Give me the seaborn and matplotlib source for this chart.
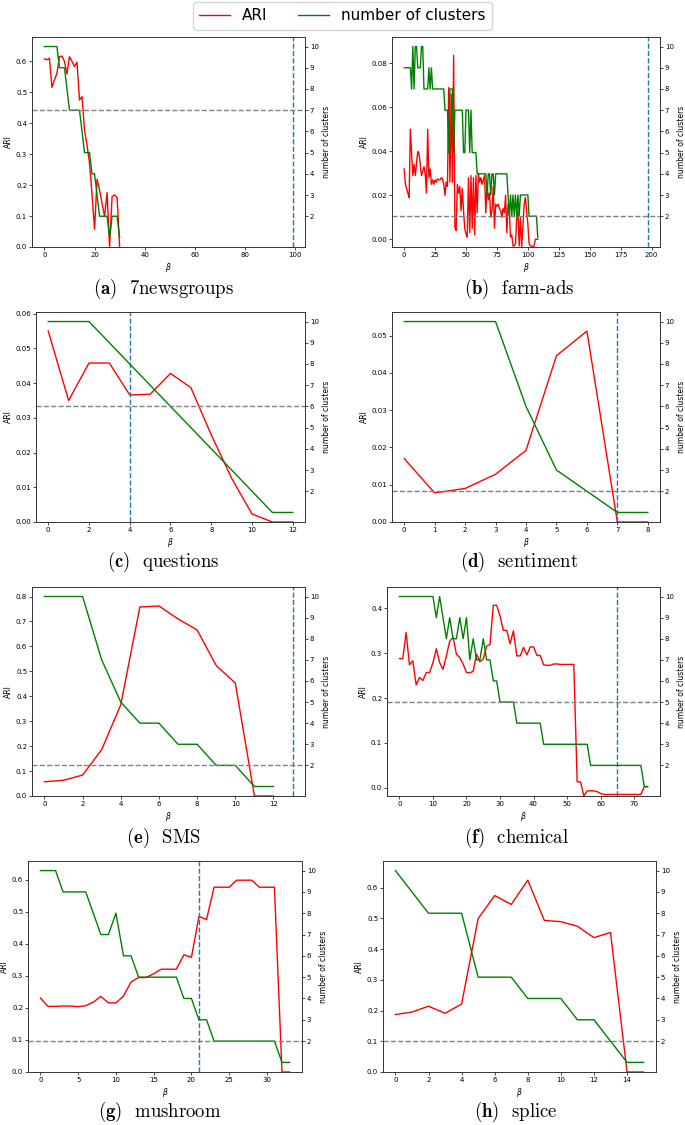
import matplotlib
matplotlib.use("Agg")
import matplotlib.pyplot as plt
import seaborn as sns

# --- DATA ---
# (a) 7newsgroups
news_beta = list(range(31))
news_ari = [0.608, 0.605, 0.61, 0.516, 0.54, 0.561, 0.615, 0.617, 0.60, 0.559,
            0.615, 0.60, 0.583, 0.597, 0.475, 0.486, 0.378, 0.33, 0.27, 0.17,
            0.057, 0.219, 0.184, 0.141, 0.098, 0.176, 0.0, 0.163, 0.168, 0.16, 0.0]
news_k = [10, 10, 10, 10, 10, 10, 9, 9, 9, 8, 7, 7, 7, 7, 7, 6, 5, 5, 5, 4,
          4, 3, 2, 2, 2, 2, 1, 2, 2, 2, 1]

# (b) farm-ads
farm_beta = list(range(109))
farm_ari = [0.032, 0.025, 0.023, 0.021, 0.019, 0.050, 0.039, 0.029, 0.034, 0.029,
            0.035, 0.040, 0.039, 0.034, 0.029, 0.031, 0.033, 0.030, 0.021, 0.050,
            0.028, 0.032, 0.025, 0.027, 0.025, 0.027, 0.026, 0.0275, 0.027, 0.027,
            0.028, 0.0275, 0.025, 0.020, 0.026, 0.024, 0.069, 0.026, 0.066, 0.026,
            0.0836, 0.0055, 0.004, 0.025, 0.021, 0.024, 0.013, 0.023, 0.013, 0.0047,
            0.0024, 0.001, 0.028, 0.003, 0.029, 0.005, 0.028, 0.002, 0.029, 0.012,
            0.030, 0.026, 0.028, 0.025, 0.027, 0.029, 0.012, 0.025, 0.018, 0.021,
            0.010, 0.013, 0.024, 0.005, 0.016, 0.015, 0.016, 0.014, 0.013, 0.010,
            0.014, 0.012, 0.020, 0.003, 0.016, 0.013, 0.001, 0.002, -0.003, -0.003,
            -0.002, 0.010, 0.013, -0.003, 0.010, -0.0035, 0.006, 0.016, 0.019, 0.013,
            0.007, -0.002, -0.003, -0.003, -0.0035, -0.003, 0.0, 0.0, 0.0]
farm_k = [9, 9, 9, 9, 9, 9, 8, 10, 8, 10, 10, 9, 9, 9, 10, 10, 8, 8, 8, 8,
          9, 8, 9, 8, 8, 8, 8, 8, 8, 8, 8, 8, 8, 7, 7, 7, 5, 8, 8, 8,
          5, 7, 7, 7, 7, 7, 7, 7, 5, 5, 7, 7, 7, 5, 7, 5, 5, 5, 5, 4,
          4, 4, 4, 4, 4, 4, 4, 3, 4, 4, 3, 4, 4, 3, 4, 4, 4, 4, 4, 4,
          4, 4, 4, 4, 3, 2, 3, 2, 3, 2, 3, 2, 3, 2, 3, 3, 3, 3, 3, 3,
          3, 2, 2, 2, 2, 2, 2, 2, 1]

# (c) questions
quest_beta = list(range(13))
quest_ari = [0.055, 0.035, 0.0458, 0.0458, 0.0366, 0.0368, 0.0428, 0.0387,
             0.0251, 0.0126, 0.0023, 0.0, 0.0]
quest_k = [10, 10, 10, 9, 8, 7, 6, 5, 4, 3, 2, 1, 1]

# (d) sentiment
sent_beta = list(range(9))
sent_ari = [0.017, 0.0078, 0.009, 0.0128, 0.0192, 0.0446, 0.0512, 0.0, 0.0]
sent_k = [10, 10, 10, 10, 6, 3, 2, 1, 1]

# (e) SMS
sms_beta = list(range(13))
sms_ari = [0.057, 0.063, 0.084, 0.186, 0.366, 0.758, 0.762, 0.71, 0.666, 0.523,
           0.453, 0.0, 0.0]
sms_k = [10, 10, 10, 7, 5, 4, 4, 3, 3, 2, 2, 1, 1]

# (f) chemical
chem_beta = list(range(75))
chem_ari = [0.288, 0.288, 0.346, 0.274, 0.283, 0.229, 0.246, 0.239, 0.257, 0.257,
            0.279, 0.310, 0.279, 0.264, 0.294, 0.327, 0.335, 0.298, 0.290, 0.276,
            0.257, 0.256, 0.260, 0.298, 0.281, 0.287, 0.316, 0.319, 0.407, 0.407,
            0.383, 0.351, 0.351, 0.321, 0.350, 0.294, 0.294, 0.313, 0.296, 0.314,
            0.314, 0.295, 0.295, 0.274, 0.273, 0.273, 0.276, 0.276, 0.275, 0.275,
            0.275, 0.275, 0.275, 0.013, 0.013, -0.0185, -0.007, -0.007, -0.007, -0.009,
            -0.013, -0.015, -0.015, -0.015, -0.015, -0.015, -0.015, -0.015, -0.015, -0.015,
            -0.015, -0.015, -0.015, 0.002, 0.002]
chem_k = [10, 10, 10, 10, 10, 10, 10, 10, 10, 10, 10, 9, 10, 9, 8, 9, 8, 8, 9, 8,
          9, 7, 8, 7, 7, 8, 7, 7, 6, 6, 5, 5, 5, 5, 5, 4, 4, 4, 4, 4,
          4, 4, 4, 3, 3, 3, 3, 3, 3, 3, 3, 3, 3, 3, 3, 3, 3, 2, 2, 2,
          2, 2, 2, 2, 2, 2, 2, 2, 2, 2, 2, 2, 2, 1, 1]

# (g) mushroom
mush_beta = list(range(34))
mush_ari = [0.231, 0.205, 0.205, 0.206, 0.206, 0.204, 0.207, 0.218, 0.236, 0.216,
            0.216, 0.237, 0.281, 0.295, 0.295, 0.307, 0.321, 0.321, 0.321, 0.366,
            0.358, 0.486, 0.476, 0.577, 0.577, 0.577, 0.599, 0.599, 0.599, 0.577,
            0.577, 0.577, 0.0, 0.0]
mush_k = [10, 10, 10, 9, 9, 9, 9, 8, 7, 7, 8, 6, 6, 5, 5, 5, 5, 5, 5, 4,
          4, 3, 3, 2, 2, 2, 2, 2, 2, 2, 2, 2, 1, 1]

# (h) splice
spl_beta = list(range(16))
spl_ari = [0.187, 0.195, 0.214, 0.191, 0.221, 0.499, 0.574, 0.545, 0.624, 0.493,
           0.489, 0.474, 0.437, 0.454, 0.0, 0.0]
spl_k = [10, 9, 8, 8, 8, 5, 5, 5, 4, 4, 4, 3, 3, 2, 1, 1]

captions = ["(a)", "(b)", "(c)", "(d)", "(e)", "(f)", "(g)", "(h)"]
datasets = ["7newsgroups", "farm-ads", "questions", "sentiment",
            "SMS", "chemical", "mushroom", "splice"]
true_k = [7, 2, 6, 2, 2, 5, 2, 2]
best_beta = [99, 197, 4, 7, 13, 65, 21, None]

# --- LAYOUT (pixel boxes of each axes: left, top, right, bottom) ---
W, H = 685, 1125
BOXES = [(32, 37, 305, 247), (392, 37, 660, 247),
         (36, 312, 305, 522), (392, 312, 660, 522),
         (32, 587, 305, 796), (387, 587, 660, 796),
         (28, 861, 302, 1072), (383, 861, 656, 1072)]
CAPTION_POS = [(163, 289), (519, 289), (163, 562), (519, 562),
               (163, 838), (517, 838), (160, 1112), (516, 1112)]

fig = plt.figure(figsize=(W / 100, H / 100), dpi=100)


def px_rect(left, top, right, bottom):
    return [left / W, 1 - bottom / H, (right - left) / W, (bottom - top) / H]


def style_axis(a):
    a.tick_params(labelsize=5, length=2, width=0.5, pad=1.5)
    for sp in a.spines.values():
        sp.set_linewidth(0.6)
        sp.set_color('#333333')


def draw_panel(i, beta, ari, k):
    ax = fig.add_axes(px_rect(*BOXES[i]))
    ax2 = ax.twinx()
    sns.lineplot(x=beta, y=ari, color='red', linewidth=1, ax=ax, legend=False)
    sns.lineplot(x=beta, y=k, color='green', linewidth=1, ax=ax2, legend=False)
    ax2.axhline(true_k[i], color='grey', linestyle='--', linewidth=1)
    if best_beta[i] is not None:
        ax.axvline(best_beta[i], color='tab:blue', linestyle='--', linewidth=1)

    ax.set_ylim(min(ari), 1.1 * max(ari))
    ax2.set_yticks(range(2, 11))

    ax.set_xlabel(r'$\beta$', fontsize=5.5, labelpad=2)
    ax.set_ylabel('ARI', fontsize=5.5, labelpad=2)
    ax2.set_ylabel('number of clusters', fontsize=5.5, labelpad=2)
    style_axis(ax)
    style_axis(ax2)

    cx, cy = CAPTION_POS[i]
    fig.text(cx / W, 1 - cy / H, r'$\mathbf{' + captions[i] + '}$  ' + datasets[i],
             family='cmr10', math_fontfamily='cm', fontsize=13.5,
             ha='center', va='center')
    return ax, ax2


all_data = [(news_beta, news_ari, news_k), (farm_beta, farm_ari, farm_k),
            (quest_beta, quest_ari, quest_k), (sent_beta, sent_ari, sent_k),
            (sms_beta, sms_ari, sms_k), (chem_beta, chem_ari, chem_k),
            (mush_beta, mush_ari, mush_k), (spl_beta, spl_ari, spl_k)]

first = None
for i, (b, a, k) in enumerate(all_data):
    axes_pair = draw_panel(i, b, a, k)
    if first is None:
        first = axes_pair

handles = [first[0].get_lines()[0], first[1].get_lines()[0]]
fig.legend(handles, ['ARI', 'number of clusters'], loc='upper center',
           bbox_to_anchor=(0.5, 1.0), ncol=2, fontsize=11, borderaxespad=0.15)

fig.savefig('out.png', dpi=100)
